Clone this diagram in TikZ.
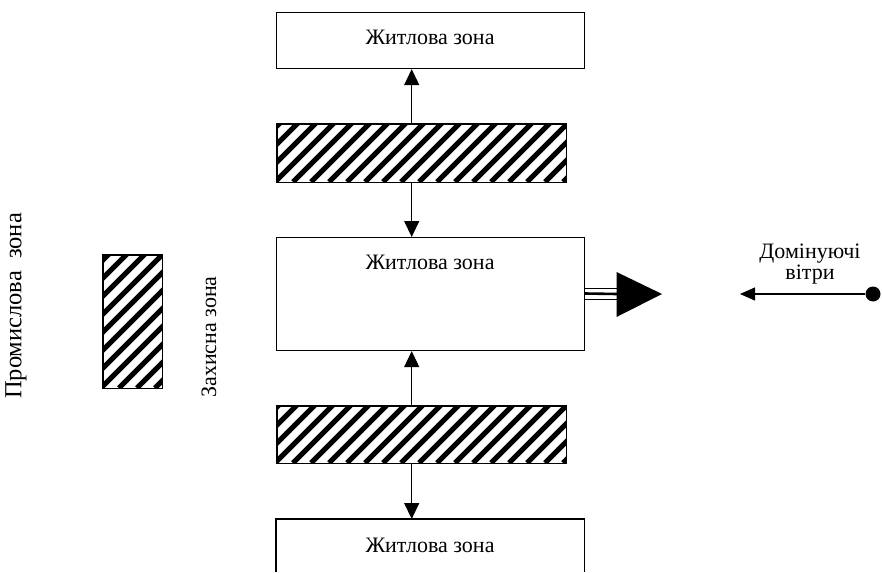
\documentclass[tikz,border=0pt]{standalone}
\usepackage{fontspec}
\setmainfont{Liberation Serif}
\usetikzlibrary{arrows.meta}

\tikzset{
  zonebox/.style={draw, line width=1.1pt, inner sep=0pt},
  lbl/.style={font=\fontsize{22}{21}\selectfont, inner sep=0pt},
  link/.style={line width=1.2pt, -{Triangle[length=16pt,width=15pt]}},
  stripes/.style={line width=5pt},
}

% hatched belt: #1 = name, (#2,#3) top-left, (#4,#5) bottom-right
\newcommand{\hatchbelt}[5]{%
  \node[inner sep=0pt, minimum width={#4-#2}, minimum height={#5-#3}, anchor=north west] (#1) at (#2,#3) {};
  \begin{scope}
    \clip (#1.south west) rectangle (#1.north east);
    \foreach \k in {-200,-182,...,400}
      \draw[stripes] (#2+\k,#5) -- ++(200,-200);
  \end{scope}
  \draw[line width=1.1pt] (#1.south west) rectangle (#1.north east);
}

\begin{document}
\begin{tikzpicture}[x=1pt,y=-1pt]
\useasboundingbox (0,0) rectangle (882,572);

% dwelling zones
\node[zonebox, minimum width=308pt, minimum height=56pt, anchor=north west] (top) at (276,12) {};
\node[lbl] at (430,37) {Житлова зона};

\node[zonebox, minimum width=308pt, minimum height=113pt, anchor=north west] (mid) at (276,237) {};
\node[lbl] at (430,262) {Житлова зона};

\node[inner sep=0pt, minimum width=308pt, minimum height=53pt, anchor=north west] (low) at (276,519) {};
\draw[line width=1.1pt] (low.south west) -- (low.north west) -- (low.north east) -- (low.south east);
\node[lbl] at (430,545) {Житлова зона};

% protective belts
\hatchbelt{hupper}{277}{124}{566}{182}
\hatchbelt{hlower}{277}{406}{566}{463}
\hatchbelt{hside}{103}{255}{162}{388}

% connections between belts and zones
\coordinate (a1) at (411.7,124);
\coordinate (a2) at (411.7,182);
\coordinate (a3) at (411.7,406);
\coordinate (a4) at (411.7,463);
\draw[link] (a1) -- (top.south -| a1);
\draw[link] (a2) -- (mid.north -| a2);
\draw[link] (a3) -- (mid.south -| a3);
\draw[link] (a4) -- (low.north -| a4);

% outflow from the middle zone
\coordinate (o1) at (617,294);
\draw[line width=0.9pt] (mid.east |- 0,288) -- (617,288);
\draw[line width=2.6pt] (mid.east |- 0,293.5) -- (o1);
\draw[line width=0.9pt] (mid.east |- 0,299) -- (617,299);
\fill (616.5,272) -- (662,294) -- (616.5,317) -- cycle;

% prevailing winds
\node[circle, fill, inner sep=0pt, minimum size=15pt] (dot) at (873,294) {};
\coordinate (wtip) at (740,294);
\draw[line width=1.2pt, -{Triangle[length=15pt,width=13pt]}] (dot) -- (wtip);
\node[lbl, align=center] at (810,264) {Домінуючі\\вітри};

% side labels
\node[lbl, rotate=90, font=\fontsize{24.5}{26}\selectfont] at (16,306) {Промислова \ зона};
\node[lbl, rotate=90] at (209,337) {Захисна зона};
\end{tikzpicture}
\end{document}
